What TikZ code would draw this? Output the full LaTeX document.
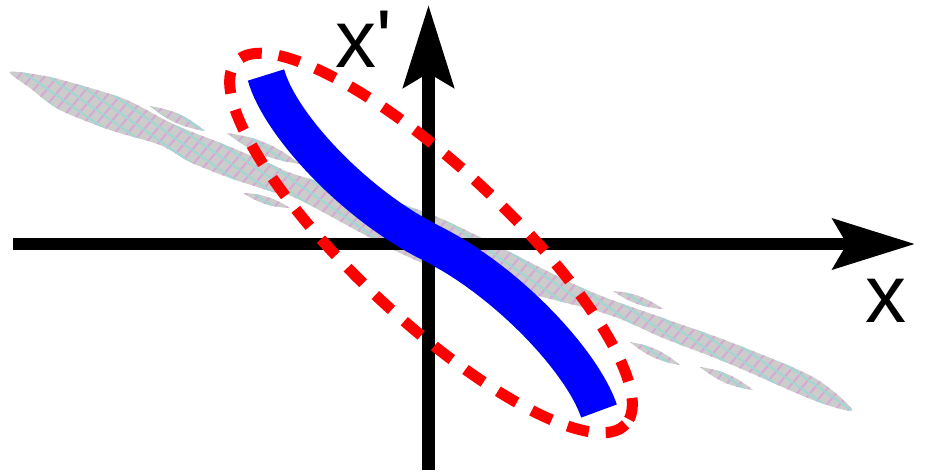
\documentclass[tikz,border=0pt]{standalone}
\usepackage{fontspec}
\setmainfont{Liberation Sans}
\usetikzlibrary{arrows.meta,patterns.meta}
\begin{document}
\begin{tikzpicture}[x=1pt,y=-1pt,
  axis/.style={line width=12pt,-{Stealth[length=82pt,width=50pt,inset=14pt]}},
  band/.style={fill={rgb,255:red,204;green,204;blue,202},draw=none,
    postaction={pattern={Lines[angle=50,distance=10pt,line width=2pt]},
      pattern color={rgb,255:red,214;green,168;blue,216}},
    postaction={pattern={Lines[angle=-35,distance=11pt,line width=2pt]},
      pattern color={rgb,255:red,160;green,214;blue,212}}},
  every node/.style={font=\fontsize{82}{82}\selectfont,inner sep=0pt}]
  \path[use as bounding box] (0,0) rectangle (926,472);
  \coordinate (O) at (428.5,244);
  \coordinate (S) at (431,243);
  \coordinate (xl) at (13,244);
  \coordinate (xr) at (915,244);
  \coordinate (yb) at (428.5,470);
  \coordinate (yt) at (428.5,5);
  % grey band
  \path[band] plot[smooth cycle,tension=.5] coordinates {(10,72) (45,76) (80,85) (127,100)
    (173,124) (223,144) (273,165) (300,176) (430,214) (580,287) (663,318) (730,342)
    (813,377) (852,410) (813,400) (730,364) (663,338) (600,312) (430,266) (300,200)
    (273,192) (230,178) (190,162) (160,145) (110,130) (60,110) (30,88)};
  \foreach \a/\b in {{150,106}/{205,131},{227,133}/{300,164},{243,193}/{290,208},
    {613,291}/{663,309},{630,342}/{680,365},{700,367}/{753,390}}
    \path[band] (\a) to[bend left=15] (\b) to[bend left=15] (\a);
  % axes
  \draw[axis] (xl) -- (xr);
  \draw[axis,line width=13pt] (yb) -- (yt);
  % dashed ellipse
  \draw[red,line width=11pt,dash pattern=on 22pt off 17pt,rotate around={-43:(S)}]
    (S) ellipse[x radius=266,y radius=76];
  % S curve
  \draw[blue,line width=38pt] (266,75) .. controls (280,125) and (355,205) .. (S)
    .. controls (507,281) and (582,361) .. (599,411);
  \node[anchor=base west] (xlab) at (865,322) {x};
  \node[anchor=base west] (xplab) at (335,67) {x\textquotesingle};
\end{tikzpicture}
\end{document}
